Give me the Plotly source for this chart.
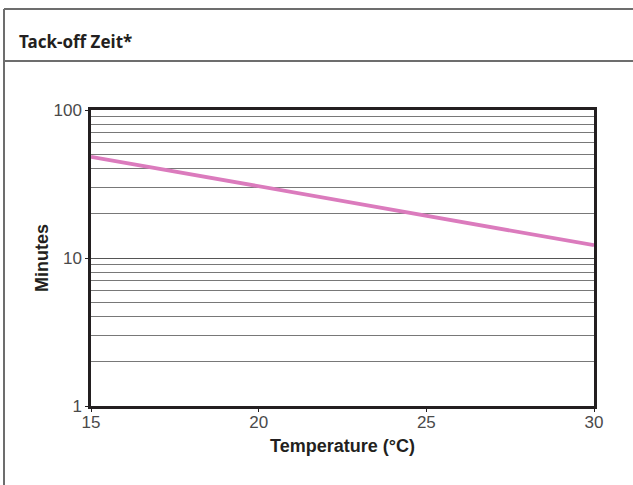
import plotly.graph_objects as go

# Data
temperature_c = [15, 20, 25, 30]
tack_off_minutes = [48.3, 30.5, 19.5, 12.2]

x_ticks = [15, 20, 25, 30]
y_ticks = [1, 10, 100]
y_tick_labels = ["1", "10", "100"]

title_text = "Tack-off Zeit*"
x_title = "Temperature (°C)"
y_title = "Minutes"

W, H = 633, 485
L, R, T, B = 91, 39, 110, 79
pw, ph = W - L - R, H - T - B

def px2x(px):
    return (px - L) / pw

def py2y(py):
    return (H - B - py) / ph

fig = go.Figure()
fig.add_trace(go.Scatter(
    x=temperature_c, y=tack_off_minutes, mode="lines",
    line=dict(color="#db7bbd", width=3.8),
    hoverinfo="skip", showlegend=False,
))

axis_line = "#231f20"
fig.update_layout(
    width=W, height=H,
    margin=dict(l=L, r=R, t=T, b=B, pad=0),
    paper_bgcolor="white", plot_bgcolor="white",
    font=dict(family="Liberation Sans, Arial, sans-serif", color="#3a3a3a"),
    xaxis=dict(
        range=[15, 30], tickvals=x_ticks, ticktext=[str(v) for v in x_ticks],
        showgrid=False, zeroline=False,
        showline=True, mirror=True, linecolor=axis_line, linewidth=2.5,
        ticks="outside", ticklen=3, tickcolor=axis_line, tickwidth=1,
        tickfont=dict(size=17, color="#4a4a4a"),
        ticklabelstandoff=-4,
        title=dict(text=x_title, font=dict(size=18, color="#231f20",
                   family="Liberation Sans, Arial, sans-serif", weight="bold"), standoff=9),
    ),
    yaxis=dict(
        type="log", range=[0, 2], tickvals=y_ticks, ticktext=y_tick_labels,
        showgrid=True, gridcolor="#555555", gridwidth=1, zeroline=False,
        showline=True, mirror=True, linecolor=axis_line, linewidth=2.5,
        ticks="outside", ticklen=3, tickcolor=axis_line, tickwidth=1,
        tickfont=dict(size=17, color="#4a4a4a"),
        minor=dict(dtick="D1", showgrid=True, gridcolor="#787878", gridwidth=1, ticks=""),
        title=dict(text=y_title, font=dict(size=18, color="#231f20",
                   family="Liberation Sans, Arial, sans-serif", weight="bold"), standoff=1),
    ),
)

# Outer frame and header separator
frame_color = "#6d6d6d"
fig.add_shape(type="line", xref="paper", yref="paper",
              x0=px2x(4), x1=px2x(700), y0=py2y(9), y1=py2y(9),
              line=dict(color=frame_color, width=2))
fig.add_shape(type="line", xref="paper", yref="paper",
              x0=px2x(4), x1=px2x(4), y0=py2y(9), y1=py2y(560),
              line=dict(color=frame_color, width=2))
fig.add_shape(type="line", xref="paper", yref="paper",
              x0=px2x(4), x1=px2x(700), y0=py2y(61), y1=py2y(61),
              line=dict(color=frame_color, width=2))

fig.add_annotation(
    text="<b>" + title_text + "</b>", xref="paper", yref="paper",
    x=px2x(17), y=py2y(42), xanchor="left", yanchor="middle", showarrow=False,
    font=dict(family="Noto Sans, Open Sans, sans-serif", size=17, color="#231f20"),
)

fig.write_html("out.html", config={"displayModeBar": False},
               post_script="document.body.style.margin='0px';")
